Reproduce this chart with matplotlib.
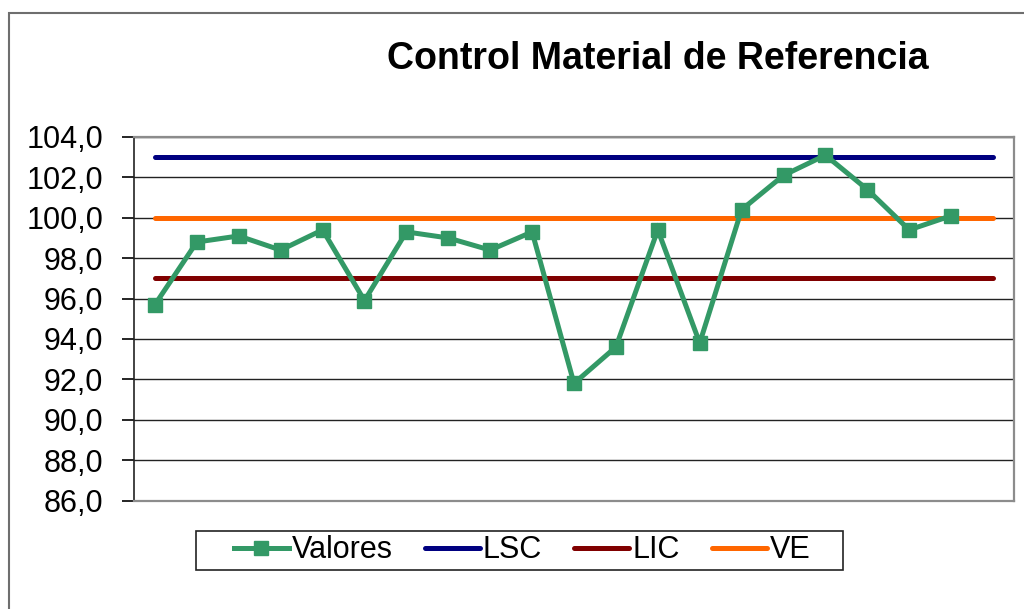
import matplotlib.pyplot as plt
from matplotlib.patches import Rectangle
from matplotlib.ticker import FuncFormatter

plt.rcParams['font.family'] = ['Liberation Sans', 'DejaVu Sans']

# data
valores = [95.7, 98.8, 99.1, 98.4, 99.4, 95.9, 99.3, 99.0, 98.4, 99.3,
           91.8, 93.6, 99.4, 93.8, 100.4, 102.1, 103.1, 101.4, 99.4, 100.1]
lsc = [103.0] * 21
lic = [97.0] * 21
ve = [100.0] * 21
yticks = [86, 88, 90, 92, 94, 96, 98, 100, 102, 104]

fig = plt.figure(figsize=(10.24, 6.09), dpi=100)
# outer chart border (gray frame)
fig.patches.append(Rectangle((8.5 / 1024, -0.1), 1.2, 1 - 12.5 / 609 + 0.1,
                             transform=fig.transFigure, fill=False,
                             edgecolor='#6e6e6e', linewidth=1.5))
# legend box, drawn by hand so it can be wider than its entries
fig.patches.append(Rectangle((196 / 1024, 1 - 570 / 609), 647 / 1024, 39 / 609,
                             transform=fig.transFigure, fill=False,
                             edgecolor='#222222', linewidth=1.2))

ax = fig.add_axes([134 / 1024, 1 - 500.5 / 609, 880 / 1024, 363.5 / 609])

x_val = range(1, len(valores) + 1)
x_lim = range(1, len(lsc) + 1)

ax.plot(x_val, valores, color='#339966', linewidth=3.6, marker='s',
        markersize=10.5, label='Valores', zorder=5, solid_joinstyle='miter')
ax.plot(x_lim, lsc, color='#000080', linewidth=3.6, label='LSC',
        solid_capstyle='round', zorder=4)
ax.plot(x_lim, lic, color='#800000', linewidth=3.6, label='LIC',
        solid_capstyle='round', zorder=4)
ax.plot(x_lim, ve, color='#FF6600', linewidth=3.6, label='VE',
        solid_capstyle='round', zorder=4)

ax.set_xlim(0.5, 21.5)
ax.set_ylim(86, 104)
ax.set_yticks(yticks)
ax.yaxis.set_major_formatter(FuncFormatter(lambda v, p: f'{v:.1f}'.replace('.', ',')))
ax.set_xticks([])
ax.tick_params(axis='y', direction='out', length=9, width=1.2, labelsize=22, pad=13)
ax.grid(axis='y', color='#222222', linewidth=1.0)
ax.set_axisbelow(True)

for side in ['top', 'right', 'bottom']:
    ax.spines[side].set_color('#8c8c8c')
    ax.spines[side].set_linewidth(1.6)
ax.spines['left'].set_color('#222222')
ax.spines['left'].set_linewidth(1.2)

fig.text(658 / 1024, 1 - 59 / 609, 'Control Material de Referencia',
         fontsize=27, fontweight='bold', ha='center', va='center')

fig.legend(loc='center', bbox_to_anchor=(522 / 1024, 1 - 550.5 / 609),
           ncol=4, fontsize=22, frameon=False,
           handlelength=1.8, handletextpad=0.1, columnspacing=1.05,
           borderpad=0.1, borderaxespad=0)

fig.savefig('out.png', dpi=100)
